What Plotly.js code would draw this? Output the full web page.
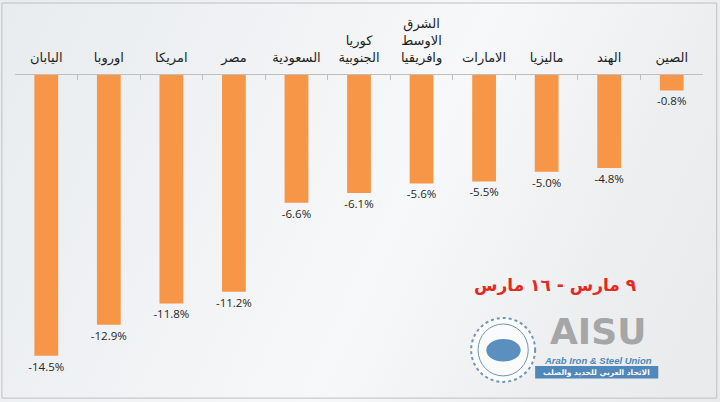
<!DOCTYPE html>
<html>
<head>
<meta charset="utf-8">
<script src="https://cdn.plot.ly/plotly-3.0.1.min.js"></script>
<style>
  html, body { margin: 0; padding: 0; }
  #chart { width: 720px; height: 402px;
    background: linear-gradient(115deg, #e8ecef 0%, #f1f3f5 35%, #f7f8f9 55%, #eceef0 80%, #e9eaec 100%); }
</style>
</head>
<body>
<div id="chart"></div>
<script>
const categories = ["اليابان", "اوروبا", "امريكا", "مصر", "السعودية", "كوريا<br>الجنوبية", "الشرق<br>الاوسط<br>وافريقيا", "الامارات", "ماليزيا", "الهند", "الصين"];
const values = [-14.5, -12.9, -11.8, -11.2, -6.6, -6.1, -5.6, -5.5, -5.0, -4.8, -0.8];
const periodLabel = "٩ مارس - ١٦ مارس";

const arabicFont = "DejaVu Sans, Noto Sans, sans-serif";

const trace = {
  type: "bar",
  x: categories,
  y: values,
  marker: { color: "#f79646" },
  texttemplate: "%{y:.1f}%",
  textposition: "outside",
  constraintext: "none",
  cliponaxis: false,
  textfont: { family: "Open Sans, DejaVu Sans, sans-serif", size: 11.5, color: "#262626" },
  hoverinfo: "skip"
};

const ann = (text, x, y, font) => ({ text, xref: "paper", yref: "paper", x, y,
  xanchor: "center", yanchor: "middle", showarrow: false, font });

const layout = {
  width: 720, height: 402,
  margin: { l: 15, r: 17, t: 75, b: 27 },
  paper_bgcolor: "rgba(0,0,0,0)",
  plot_bgcolor: "rgba(0,0,0,0)",
  bargap: 0.62,
  showlegend: false,
  xaxis: {
    type: "category",
    side: "top",
    showline: true, linecolor: "#bfbfbf", linewidth: 1,
    ticks: "inside", ticklen: 5, tickcolor: "#bfbfbf",
    tickson: "boundaries",
    ticklabelstandoff: 7,
    showgrid: false, zeroline: false,
    tickfont: { family: arabicFont, size: 13, color: "#1f1f1f" },
    fixedrange: true
  },
  yaxis: { visible: false, range: [-15.5, 0], fixedrange: true },
  shapes: [
    { type: "rect", xref: "paper", yref: "paper", x0: -0.019, x1: 1.020, y0: -0.077, y1: 1.24,
      line: { color: "#bfbfbf", width: 1 }, fillcolor: "rgba(0,0,0,0)", layer: "below" },
    { type: "circle", xref: "paper", yref: "paper", x0: 0.663, x1: 0.756, y0: -0.023, y1: 0.19,
      line: { color: "#6f95b8", width: 2, dash: "dot" }, fillcolor: "rgba(255,255,255,0.7)" },
    { type: "circle", xref: "paper", yref: "paper", x0: 0.673, x1: 0.746, y0: -0.003, y1: 0.17,
      line: { color: "#6f95b8", width: 1 }, fillcolor: "rgba(0,0,0,0)" },
    { type: "circle", xref: "paper", yref: "paper", x0: 0.685, x1: 0.735, y0: 0.045, y1: 0.12,
      line: { width: 0 }, fillcolor: "#5b8fbf" },
    { type: "rect", xref: "paper", yref: "paper", x0: 0.756, x1: 0.935, y0: -0.012, y1: 0.03,
      line: { width: 0 }, fillcolor: "#4f88b9" }
  ],
  annotations: [
    ann("<b>" + periodLabel + "</b>", 0.785, 0.30, { family: arabicFont, size: 17, color: "#e8281e" }),
    ann("<b>AISU</b>", 0.847, 0.145, { family: "DejaVu Sans, sans-serif", size: 36, color: "#a6a6a6" }),
    ann("<b><i>Arab Iron &amp; Steel Union</i></b>", 0.847, 0.05, { family: "Liberation Sans, Arial, sans-serif", size: 9.5, color: "#4f88b9" }),
    ann("<b>الاتحاد العربي للحديد والصلب</b>", 0.845, 0.008, { family: arabicFont, size: 7.5, color: "#ffffff" })
  ]
};

Plotly.newPlot("chart", [trace], layout, { displayModeBar: false, staticPlot: true });
</script>
</body>
</html>
